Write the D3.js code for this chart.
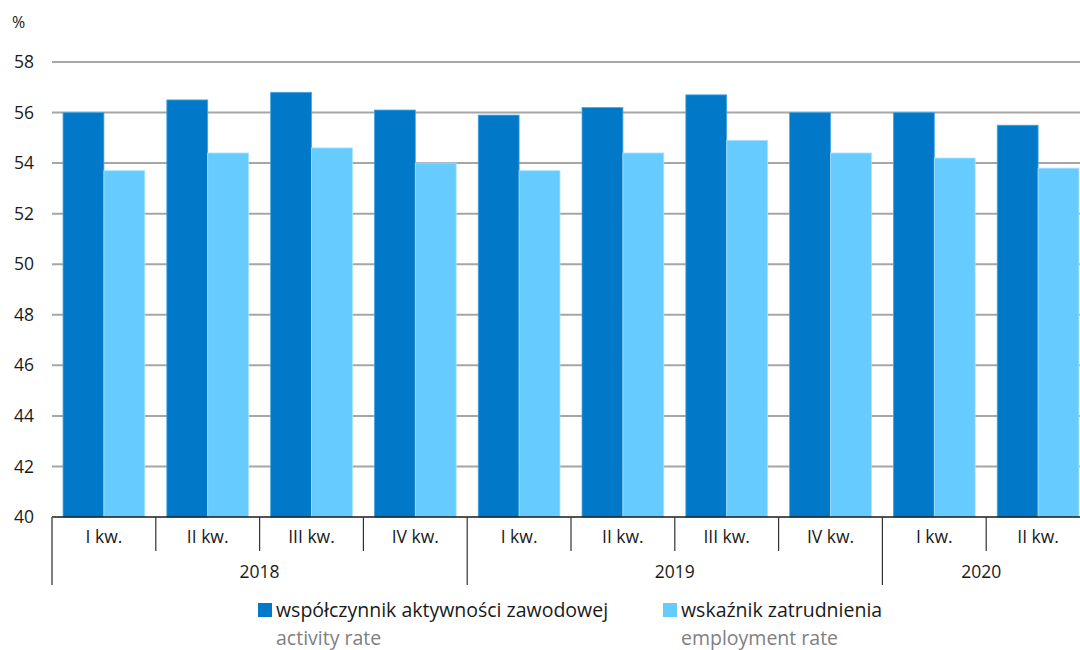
<!DOCTYPE html>
<html>
<head>
<meta charset="utf-8">
<script src="https://cdn.jsdelivr.net/npm/d3@7"></script>
<style>
  body { margin: 0; background: #fff; }
  text { font-family: "Open Sans", "Noto Sans", sans-serif; fill: #1a1a1a; }
</style>
</head>
<body>
<script>
var width = 1080,
    height = 650;

// data
var quarters = ['I kw.', 'II kw.', 'III kw.', 'IV kw.', 'I kw.', 'II kw.', 'III kw.', 'IV kw.', 'I kw.', 'II kw.'];
var years = ['2018', '2018', '2018', '2018', '2019', '2019', '2019', '2019', '2020', '2020'];
var activity = [56.0, 56.5, 56.8, 56.1, 55.9, 56.2, 56.7, 56.0, 56.0, 55.5];
var employment = [53.7, 54.4, 54.6, 54.0, 53.7, 54.4, 54.9, 54.4, 54.2, 53.8];
var yTicks = [40, 42, 44, 46, 48, 50, 52, 54, 56, 58];
var seriesNames = ['współczynnik aktywności zawodowej', 'wskaźnik zatrudnienia'];
var seriesNamesEn = ['activity rate', 'employment rate'];
var colors = ['#0179c8', '#66ccff'];

var plotLeft = 52, plotRight = 1090, plotTop = 62, plotBottom = 517;

var svg = d3.select('body')
    .append('svg')
    .attr('width', width)
    .attr('height', height);

var idx = d3.range(quarters.length);

var x = d3.scaleBand()
    .domain(idx)
    .range([plotLeft, plotRight])
    .paddingInner(0)
    .paddingOuter(0);

var inner = d3.scaleBand()
    .domain([0, 1])
    .range([0, x.bandwidth()])
    .paddingInner(0)
    .paddingOuter(0.27);

var y = d3.scaleLinear()
    .domain([40, 58])
    .range([plotBottom, plotTop]);

// gridlines
svg.append('g')
    .selectAll('line')
    .data(yTicks.filter(function (d) { return d > 40; }))
    .enter()
    .append('line')
    .attr('x1', plotLeft)
    .attr('x2', width)
    .attr('y1', function (d) { return y(d); })
    .attr('y2', function (d) { return y(d); })
    .attr('stroke', '#a6a6a6')
    .attr('stroke-width', 2);

// y labels
svg.append('g')
    .selectAll('text')
    .data(yTicks)
    .enter()
    .append('text')
    .attr('x', 34)
    .attr('y', function (d) { return y(d); })
    .attr('dy', '0.35em')
    .attr('text-anchor', 'end')
    .attr('font-size', 17.5)
    .text(function (d) { return d; });

svg.append('text')
    .attr('x', 12)
    .attr('y', 28)
    .attr('font-size', 16)
    .text('%');

// bars
var series = [activity, employment];
series.forEach(function (vals, s) {
    svg.append('g')
        .selectAll('rect')
        .data(vals)
        .enter()
        .append('rect')
        .attr('x', function (d, i) { return x(i) + inner(s); })
        .attr('y', function (d) { return y(d); })
        .attr('width', inner.bandwidth())
        .attr('height', function (d) { return y(40) - y(d); })
        .attr('fill', colors[s])
        .attr('stroke', s === 0 ? '#4aa6e0' : '#a8e2ff')
        .attr('stroke-width', 0.8);
});

// axis line
svg.append('line')
    .attr('x1', plotLeft).attr('x2', width)
    .attr('y1', plotBottom).attr('y2', plotBottom)
    .attr('stroke', '#1a1a1a')
    .attr('stroke-width', 1.5);

// quarter separators
svg.append('g')
    .selectAll('line')
    .data(idx.slice(1))
    .enter()
    .append('line')
    .attr('x1', function (d) { return x(d); })
    .attr('x2', function (d) { return x(d); })
    .attr('y1', plotBottom)
    .attr('y2', function (d) { return years[d] !== years[d - 1] ? 585 : 551; })
    .attr('stroke', '#333')
    .attr('stroke-width', 1.2);

svg.append('line')
    .attr('x1', plotLeft).attr('x2', plotLeft)
    .attr('y1', plotBottom).attr('y2', 585)
    .attr('stroke', '#555')
    .attr('stroke-width', 1.5);

// quarter labels
svg.append('g')
    .selectAll('text')
    .data(quarters)
    .enter()
    .append('text')
    .attr('x', function (d, i) { return x(i) + x.bandwidth() / 2; })
    .attr('y', 537)
    .attr('dy', '0.35em')
    .attr('text-anchor', 'middle')
    .attr('font-size', 17.5)
    .text(function (d) { return d; });

// year labels
var yearGroups = d3.groups(idx, function (i) { return years[i]; });
svg.append('g')
    .selectAll('text')
    .data(yearGroups)
    .enter()
    .append('text')
    .attr('x', function (d) {
        var a = x(d[1][0]), b = Math.min(x(d[1][d[1].length - 1]) + x.bandwidth(), width);
        return (a + b) / 2;
    })
    .attr('y', 572)
    .attr('dy', '0.35em')
    .attr('text-anchor', 'middle')
    .attr('font-size', 17.5)
    .text(function (d) { return d[0]; });

// legend
var legendX = [258, 663];
var legend = svg.append('g')
    .selectAll('g')
    .data(seriesNames)
    .enter()
    .append('g')
    .attr('transform', function (d, i) { return 'translate(' + legendX[i] + ',0)'; });

legend.append('rect')
    .attr('x', 0)
    .attr('y', 603)
    .attr('width', 14)
    .attr('height', 14)
    .attr('fill', function (d, i) { return colors[i]; });

legend.append('text')
    .attr('x', 18)
    .attr('y', 617)
    .attr('font-size', 19.5)
    .text(function (d) { return d; });

legend.append('text')
    .attr('x', 18)
    .attr('y', 645)
    .attr('font-size', 19.5)
    .style('fill', '#808080')
    .text(function (d, i) { return seriesNamesEn[i]; });
</script>
</body>
</html>
